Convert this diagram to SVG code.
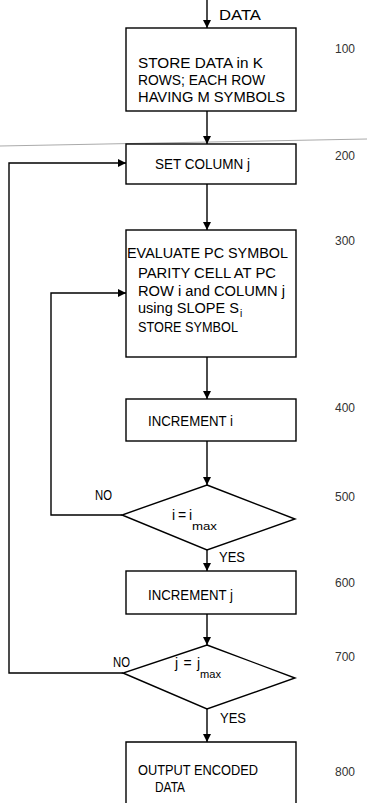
<svg xmlns="http://www.w3.org/2000/svg" width="367" height="803" viewBox="0 0 367 803">
<defs>
<marker id="ah" markerWidth="8" markerHeight="10" refX="8" refY="4" orient="auto" markerUnits="userSpaceOnUse">
<path d="M0,0 L8,4 L0,8 Z" fill="#000"/>
</marker>
<style>
.box{fill:#fff;stroke:#000;stroke-width:1.4}
.ln{fill:none;stroke:#000;stroke-width:1.4}
.t{font-family:"Liberation Sans","DejaVu Sans",sans-serif;font-size:14px;fill:#000}
.n{font-family:"Liberation Sans","DejaVu Sans",sans-serif;font-size:12px;fill:#333}
.s{font-family:"Liberation Sans","DejaVu Sans",sans-serif;font-size:10px;fill:#000}
</style>
</defs>
<rect width="367" height="803" fill="#fff"/>
<line x1="0" y1="146" x2="367" y2="139" stroke="#aaa" stroke-width="1"/>
<g id="connectors">
<line class="ln" x1="207" y1="0" x2="207" y2="28" marker-end="url(#ah)"/>
<line class="ln" x1="207" y1="111" x2="207" y2="144" marker-end="url(#ah)"/>
<line class="ln" x1="207" y1="184" x2="207" y2="230" marker-end="url(#ah)"/>
<line class="ln" x1="207" y1="357" x2="207" y2="399" marker-end="url(#ah)"/>
<line class="ln" x1="207" y1="441" x2="207" y2="485" marker-end="url(#ah)"/>
<line class="ln" x1="207" y1="550" x2="207" y2="571" marker-end="url(#ah)"/>
<line class="ln" x1="207" y1="614" x2="207" y2="645" marker-end="url(#ah)"/>
<line class="ln" x1="207" y1="709" x2="207" y2="742" marker-end="url(#ah)"/>
<polyline class="ln" points="122,515 51,515 51,293 126,293" marker-end="url(#ah)"/>
<polyline class="ln" points="123,673 9,673 9,163 126,163" marker-end="url(#ah)"/>
<text class="t" x="219" y="20" textLength="42" lengthAdjust="spacingAndGlyphs">DATA</text>
<text class="t" x="95" y="500" textLength="17" lengthAdjust="spacingAndGlyphs">NO</text>
<text class="t" x="219" y="562" textLength="26" lengthAdjust="spacingAndGlyphs">YES</text>
<text class="t" x="113" y="667" textLength="17" lengthAdjust="spacingAndGlyphs">NO</text>
<text class="t" x="220" y="723" textLength="26" lengthAdjust="spacingAndGlyphs">YES</text>
</g>
<g id="n100">
<rect class="box" x="126" y="28" width="170" height="83"/>
<text class="t" x="138" y="68" textLength="125" lengthAdjust="spacingAndGlyphs">STORE DATA in  K</text>
<text class="t" x="138" y="85" textLength="127" lengthAdjust="spacingAndGlyphs">ROWS; EACH ROW</text>
<text class="t" x="138" y="102" textLength="147" lengthAdjust="spacingAndGlyphs">HAVING M SYMBOLS</text>
<text class="n" x="335" y="53">100</text>
</g>
<g id="n200">
<rect class="box" x="126" y="144" width="170" height="40"/>
<text class="t" x="155" y="169" textLength="95" lengthAdjust="spacingAndGlyphs">SET COLUMN  j</text>
<text class="n" x="335" y="160">200</text>
</g>
<g id="n300">
<rect class="box" x="126" y="230" width="170" height="127"/>
<text class="t" x="127" y="258" textLength="161" lengthAdjust="spacingAndGlyphs">EVALUATE  PC SYMBOL</text>
<text class="t" x="138" y="278" textLength="138" lengthAdjust="spacingAndGlyphs">PARITY CELL AT PC</text>
<text class="t" x="138" y="296" textLength="147" lengthAdjust="spacingAndGlyphs">ROW i and COLUMN  j</text>
<text class="t" x="138" y="313" textLength="101" lengthAdjust="spacingAndGlyphs">using  SLOPE S</text>
<text class="s" x="240" y="317">i</text>
<text class="t" x="138" y="332" textLength="100" lengthAdjust="spacingAndGlyphs">STORE SYMBOL</text>
<text class="n" x="335" y="245">300</text>
</g>
<g id="n400">
<rect class="box" x="126" y="399" width="170" height="42"/>
<text class="t" x="148" y="426" textLength="85" lengthAdjust="spacingAndGlyphs">INCREMENT  i</text>
<text class="n" x="335" y="412">400</text>
</g>
<g id="n500">
<polygon class="box" points="207,485 295,519 207,550 122,515"/>
<text class="t" x="172" y="520" textLength="20" lengthAdjust="spacing">i=i</text>
<text class="s" x="192" y="530" textLength="25" lengthAdjust="spacingAndGlyphs">max</text>
<text class="n" x="335" y="501">500</text>
</g>
<g id="n600">
<rect class="box" x="126" y="571" width="170" height="43"/>
<text class="t" x="148" y="600" textLength="85" lengthAdjust="spacingAndGlyphs">INCREMENT  j</text>
<text class="n" x="335" y="587">600</text>
</g>
<g id="n700">
<polygon class="box" points="207,645 295,678 207,709 123,673"/>
<text class="t" x="175" y="668" textLength="25" lengthAdjust="spacing">j=j</text>
<text class="s" x="200" y="678" textLength="21" lengthAdjust="spacingAndGlyphs">max</text>
<text class="n" x="335" y="661">700</text>
</g>
<g id="n800">
<path class="box" d="M126,803 L126,742 L296,742 L296,803"/>
<text class="t" x="138" y="775" textLength="120" lengthAdjust="spacingAndGlyphs">OUTPUT ENCODED</text>
<text class="t" x="155" y="792" textLength="30" lengthAdjust="spacingAndGlyphs">DATA</text>
<text class="n" x="335" y="776">800</text>
</g>
</svg>
